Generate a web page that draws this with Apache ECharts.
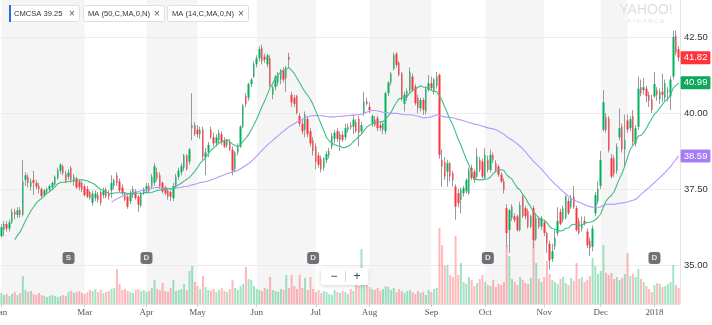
<!DOCTYPE html>
<html><head><meta charset="utf-8">
<script src="https://cdn.jsdelivr.net/npm/echarts@6/dist/echarts.min.js"></script>
<style>html,body{margin:0;padding:0;background:#fff;}#c{width:712px;height:325px;}</style>
</head><body><div id="c"></div>
<script>
// ---------- DATA ----------
const tradingDays = {
  '2017-01': [3,4,5,6,9,10,11,12,13,17,18,19,20,23,24,25,26,27,30,31],
  '2017-02': [1,2,3,6,7,8,9,10,13,14,15,16,17,21,22,23,24,27,28],
  '2017-03': [1,2,3,6,7,8,9,10,13,14,15,16,17,20,21,22,23,24,27,28,29,30,31],
  '2017-04': [3,4,5,6,7,10,11,12,13,17,18,19,20,21,24,25,26,27,28],
  '2017-05': [1,2,3,4,5,8,9,10,11,12,15,16,17,18,19,22,23,24,25,26,30,31],
  '2017-06': [1,2,5,6,7,8,9,12,13,14,15,16,19,20,21,22,23,26,27,28,29,30],
  '2017-07': [3,5,6,7,10,11,12,13,14,17,18,19,20,21,24,25,26,27,28,31],
  '2017-08': [1,2,3,4,7,8,9,10,11,14,15,16,17,18,21,22,23,24,25,28,29,30,31],
  '2017-09': [1,5,6,7,8,11,12,13,14,15,18,19,20,21,22,25,26,27,28,29],
  '2017-10': [2,3,4,5,6,9,10,11,12,13,16,17,18,19,20,23,24,25,26,27,30,31],
  '2017-11': [1,2,3,6,7,8,9,10,13,14,15,16,17,20,21,22,24,27,28,29,30],
  '2017-12': [1,4,5,6,7,8,11,12,13,14,15,18,19,20,21,22,26,27,28,29],
  '2018-01': [2,3,4,5,8,9,10,11,12,16]
};
const VIEW_FIRST_DATE = '2017-01-13';

const openP = [
34.7,34.9,35.05,35.2,35.45,35.35,35.6,35.75,
35.95,36.15,36.35,36.2,36.4,36.75,36.65,36.8,36.65,37.8,
37.9,37.58,37.8,37.7,37.6,37.5,37.3,37.42,37.48,37.55,
37.65,37.85,38.1,38.25,38.0,37.9,38.2,37.75,37.85,37.75,
37.7,37.58,37.5,37.4,37.05,37.2,37.3,37.4,37.3,37.48,
37.38,37.45,37.6,37.95,37.75,37.55,37.35,37.25,37.1,37.3,
37.4,37.25,36.95,37.35,37.45,37.6,37.58,37.7,38.05,37.95,
37.7,37.55,37.45,37.4,37.2,37.6,37.9,38.05,38.2,38.6,
38.4,39.5,39.6,39.45,39.3,39.45,38.55,38.7,39.45,39.2,
39.0,39.1,39.3,39.1,38.95,39.05,38.8,38.15,38.7,38.9,
39.55,40.55,40.5,40.95,41.2,41.6,41.8,42.15,41.85,41.6,
41.8,40.6,40.85,41.0,41.1,41.4,41.15,41.85,40.6,40.5,
40.55,39.9,39.65,39.45,39.8,39.4,39.1,38.9,38.6,38.5,
38.2,38.45,38.6,38.9,39.15,39.4,39.1,39.28,39.2,39.45,
39.6,39.55,39.7,39.8,39.4,40.0,40.38,40.2,39.66,39.78,
39.83,39.6,39.45,39.4,40.65,41.0,41.45,41.95,41.65,41.3,
40.3,40.5,40.72,41.2,40.87,40.5,40.16,40.43,40.05,40.76,
40.98,40.7,40.9,41.25,38.46,38.4,38.07,38.35,38.02,37.58,
37.36,37.14,37.36,37.42,37.36,38.2,38.07,37.91,38.46,38.4,
37.86,38.46,38.13,38.62,38.35,38.24,37.97,37.75,36.87,36.15,
36.55,36.6,36.6,36.15,37.25,36.87,36.76,36.26,36.87,35.85,
36.54,36.26,36.4,36.05,35.7,35.2,35.6,36.05,36.75,36.5,
36.55,37.1,36.9,37.25,36.87,36.45,36.2,36.45,36.1,35.8,
35.6,36.7,37.1,37.6,39.45,39.86,39.82,38.51,38.5,38.1,
39.2,39.55,38.8,39.75,39.5,39.9,39.0,39.55,40.85,40.75,
40.8,40.6,40.45,40.55,40.75,40.45,40.7,40.5,40.7,40.55,
41.2,42.55,42.1
];
const highP = [
35.0,35.15,35.3,35.5,35.55,35.7,35.85,36.0,
36.35,36.45,36.45,36.5,36.85,36.85,36.9,36.9,38.45,38.05,
38.0,37.85,38.1,37.8,37.7,37.55,37.5,37.55,37.65,37.75,
37.95,38.2,38.35,38.3,38.1,38.15,38.25,38.0,37.9,37.8,
37.75,37.65,37.6,37.45,37.45,37.45,37.4,37.45,37.55,37.55,
37.45,37.95,37.85,38.05,37.85,37.65,37.4,37.3,37.45,37.6,
37.5,37.3,37.4,37.55,37.7,37.7,38.0,38.35,38.2,38.05,
37.75,37.6,37.5,37.45,37.7,38.0,38.2,38.35,38.65,38.65,
38.85,40.65,39.7,39.6,39.55,39.55,38.85,39.05,39.55,39.35,
39.3,39.45,39.4,39.2,39.15,39.15,38.9,38.75,39.0,39.6,
40.3,40.65,41.0,41.15,41.7,41.9,42.2,42.25,41.95,41.95,
41.9,40.9,41.25,41.35,41.45,41.5,41.55,41.98,40.7,40.6,
40.6,40.0,39.8,40.05,39.9,39.5,39.2,39.0,38.7,38.6,
38.55,38.75,38.85,39.35,39.45,39.5,39.4,39.4,39.65,39.65,
39.7,39.95,39.8,39.9,39.7,40.7,40.5,40.35,39.95,39.9,
39.9,39.7,39.7,40.7,41.05,41.35,41.99,42.0,41.7,41.35,
40.7,40.8,41.5,41.3,40.95,40.6,40.5,40.5,40.87,41.25,
41.2,41.15,41.35,41.3,38.8,38.55,38.46,38.4,38.1,37.65,
37.5,37.55,37.6,37.85,38.2,38.3,38.15,38.84,38.55,38.5,
38.84,38.6,38.8,38.7,38.45,38.3,38.05,37.85,37.0,36.85,
37.0,36.7,36.65,37.08,37.3,36.95,36.85,36.65,36.95,36.7,
36.6,36.6,36.45,36.1,35.8,35.7,36.15,36.9,36.85,36.95,
37.3,37.2,37.3,37.6,36.95,36.55,36.6,36.6,36.2,35.9,
36.3,37.4,37.75,38.75,40.75,40.0,39.9,38.65,38.6,39.0,
40.15,39.65,39.95,39.95,39.9,40.1,39.6,41.2,41.1,41.15,
40.9,40.7,40.6,41.35,40.85,40.8,41.3,41.1,40.85,41.2,
42.7,42.72,42.2
];
const lowP = [
34.55,34.8,34.95,35.1,35.2,35.25,35.5,35.65,
35.9,35.95,36.1,36.1,36.35,36.5,36.55,36.55,36.6,37.6,
37.55,37.45,37.3,37.5,37.35,37.2,37.25,37.35,37.4,37.5,
37.6,37.8,38.0,37.95,37.7,37.8,37.7,37.6,37.5,37.45,
37.4,37.25,37.2,37.15,36.95,37.1,37.05,36.95,37.2,37.2,
37.15,37.2,37.5,37.6,37.4,37.3,37.1,36.85,37.0,37.2,
37.15,36.75,36.9,37.3,37.35,37.35,37.5,37.6,37.75,37.5,
37.35,37.3,37.15,37.1,37.1,37.5,37.8,37.95,38.1,38.1,
38.3,39.1,39.25,39.2,39.15,38.45,37.95,38.55,39.15,38.9,
38.9,39.0,38.95,38.85,38.85,38.75,37.95,38.05,38.6,38.85,
39.5,40.2,40.4,40.85,41.15,41.5,41.7,41.6,41.65,41.5,
40.85,40.45,40.75,40.9,40.95,41.0,40.7,41.5,40.2,40.2,
39.95,39.55,39.3,39.2,39.2,38.9,38.6,38.15,38.2,38.05,
38.1,38.35,38.5,38.8,39.0,39.05,38.75,39.05,39.1,39.35,
39.45,39.3,39.35,38.9,39.3,39.9,40.25,40.0,39.55,39.55,
39.4,39.4,39.3,39.3,40.55,40.9,41.4,41.5,41.2,40.4,
40.05,40.4,40.65,40.7,40.25,39.99,40.05,39.94,39.95,40.7,
40.75,40.6,40.8,38.5,37.58,37.8,37.58,37.75,37.58,36.49,
36.9,36.7,37.25,37.35,37.3,37.8,37.7,37.85,38.05,37.85,
37.8,38.05,38.05,38.35,38.05,37.9,37.7,37.35,35.6,35.4,
36.45,36.4,36.1,36.1,36.55,36.5,36.2,36.2,35.55,35.8,
36.2,36.15,35.95,35.4,34.85,35.1,35.5,35.95,36.3,36.4,
36.5,36.65,36.85,36.85,36.1,36.0,36.1,36.3,35.55,35.3,
35.45,36.6,37.0,37.5,39.4,39.35,38.7,37.85,37.9,38.0,
39.1,38.7,38.25,39.35,39.4,38.95,38.9,39.45,40.55,40.6,
40.35,40.2,40.0,40.5,40.4,40.3,40.35,40.4,40.4,40.1,
41.1,41.9,41.7
];
const closeP = [
34.85,35.05,35.2,35.4,35.35,35.6,35.75,35.9,
36.25,36.35,36.2,36.4,36.75,36.65,36.8,36.65,37.75,37.95,
37.7,37.75,37.7,37.58,37.5,37.27,37.45,37.5,37.6,37.7,
37.9,38.12,38.3,38.02,37.75,38.05,37.8,37.9,37.55,37.55,
37.48,37.3,37.25,37.2,37.35,37.35,37.15,37.05,37.45,37.25,
37.25,37.7,37.8,37.7,37.45,37.35,37.15,36.92,37.35,37.5,
37.2,36.98,37.35,37.5,37.6,37.42,37.9,38.25,37.85,37.58,
37.42,37.35,37.25,37.25,37.6,37.9,38.1,38.25,38.6,38.15,
38.8,39.6,39.3,39.3,39.45,38.55,38.7,38.95,39.2,39.0,
39.2,39.35,39.05,38.9,39.1,38.8,38.1,38.7,38.9,39.55,
40.25,40.3,40.95,41.1,41.6,41.8,42.1,41.7,41.75,41.9,
40.9,40.85,41.2,41.3,41.4,41.1,41.5,41.75,40.35,40.3,
40.0,39.65,39.4,39.95,39.3,39.0,38.75,38.4,38.3,38.15,
38.5,38.65,38.75,39.25,39.35,39.15,39.3,39.12,39.5,39.55,
39.52,39.78,39.4,39.35,39.6,40.38,40.3,40.1,39.9,39.6,
39.5,39.5,39.66,40.65,41.0,41.3,41.9,41.58,41.25,40.5,
40.6,40.72,41.36,40.76,40.32,40.16,40.43,40.1,40.8,40.98,
40.82,41.1,41.2,38.62,38.24,37.91,38.35,37.91,37.8,36.92,
37.03,37.47,37.53,37.8,38.13,37.86,37.8,38.57,38.13,37.91,
38.62,38.13,38.62,38.46,38.13,37.97,37.75,37.47,36.05,36.8,
36.92,36.48,36.15,36.97,36.6,36.6,36.26,36.6,35.82,36.55,
36.26,36.54,36.05,35.7,35.15,35.45,35.9,36.45,36.35,36.85,
37.25,36.7,37.2,36.9,36.15,36.05,36.35,36.35,35.65,35.55,
36.2,37.3,37.5,38.45,40.35,39.44,38.78,37.91,38.0,38.9,
39.5,38.8,39.1,39.45,39.8,39.05,39.5,40.8,40.65,40.85,
40.55,40.4,40.1,40.95,40.6,40.7,40.6,40.98,40.75,41.1,
42.5,41.98,41.82
];
// volume, millions of shares
const volume = [
20,18,17,16,15,17,16,18,
11,9,10,8,10,12,9,11,28,
14,12,13,10,9,11,9,
8,7,8,9,8,7,8,9,8,
12,13,11,12,13,11,10,12,14,
13,15,12,14,11,12,13,15,16,
35,
20,14,15,13,12,11,14,15,13,14,12,13,16,
24,
15,14,21,13,12,16,24,13,14,15,20,14,33,
38,
22,18,15,28,17,14,13,15,12,14,16,13,12,15,
24,
16,14,18,20,37,25,24,18,15,14,13,16,15,
27,
14,13,12,15,14,29,16,29,18,15,29,16,26,
14,27,15,12,14,11,13,12,10,9,14,12,11,13,12,10,15,13,20,18,
55,
20,19,17,15,14,16,13,15,18,17,14,16,12,15,13,11,13,14,12,10,13,11,12,9,14,12,15,16,
76,59,38,39,29,27,68,29,41,
22,20,27,24,18,21,25,29,22,19,18,24,17,20,19,22,
59,48,
25,22,19,27,24,21,20,26,
64,41,
25,22,27,
43,
30,24,22,20,25,27,21,19,26,23,
41,
25,27,22,24,28,
46,38,30,33,59,
31,29,31,25,27,24,26,30,
51,
28,30,27,35,25,22,18,15,12,19,21,20,17,18,20,22,
39,19,16
];
const tickDates  = ['2017-01-13','2017-03-01','2017-04-03','2017-05-01','2017-06-01','2017-07-03','2017-08-01','2017-09-01','2017-10-02','2017-11-01','2017-12-01','2018-01-02'];
const tickLabels = ['Jan','Mar','Apr','May','Jun','Jul','Aug','Sep','Oct','Nov','Dec','2018'];
const eventDates  = ['2017-02-21','2017-04-03','2017-06-30','2017-10-03','2018-01-02'];
const eventLabels = ['S','D','D','D','D'];
const TICKER = 'CMCSA';
const HEADER_PRICE = 39.25;
const MA_SLOW = 50, MA_FAST = 14;

// ---------- BUILD ----------
const dates = [];
for (const m in tradingDays) for (const d of tradingDays[m]) dates.push(m + '-' + String(d).padStart(2, '0'));
const lens = [dates.length, openP.length, highP.length, lowP.length, closeP.length, volume.length];
if (lens.some(l => l !== lens[0])) throw new Error('length mismatch ' + lens.join(','));

function movingAvg(n) {
  return closeP.map((c, i) => {
    if (i < n - 1) return null;
    let s = 0; for (let k = i - n + 1; k <= i; k++) s += closeP[k];
    return s / n;
  });
}
const START = dates.indexOf(VIEW_FIRST_DATE);
const idx = []; for (let i = START; i < dates.length; i++) idx.push(i);
const viewDates = idx.map(i => dates[i]);
const UP = '#00b15d', DOWN = '#ff333a', WICK = '#9a9a9a';
const VOL_UP = 'rgba(0,177,93,0.36)', VOL_DOWN = 'rgba(255,51,58,0.34)';
const PURPLE = '#b996fa', PURPLE_LBL = '#a57cf6', MAGREEN = '#3cbf86', MAGREEN_LBL = '#0fa85c';
const wick = idx.map(i => [openP[i], closeP[i], lowP[i], highP[i]]);
const body = idx.map(i => [openP[i], closeP[i], Math.min(openP[i], closeP[i]), Math.max(openP[i], closeP[i])]);
const vol = idx.map(i => ({ value: volume[i], itemStyle: { color: closeP[i] >= openP[i] ? VOL_UP : VOL_DOWN } }));
const maS = movingAvg(MA_SLOW), maF = movingAvg(MA_FAST);
const maSV = idx.map(i => maS[i]), maFV = idx.map(i => maF[i]);
const closeV = idx.map(i => closeP[i]);
const bands = [];
for (let k = 0; k + 1 < tickDates.length; k += 2) bands.push([{ xAxis: tickDates[k] }, { xAxis: tickDates[k + 1] }]);
const showTick = (index, value) => tickDates.indexOf(value) >= 0;
const EVENT_ROW = 46;
const VOL_AXIS_MAX = 304;

function endLbl(bg) {
  return { show: true, formatter: p => Number(Array.isArray(p.value) ? p.value[1] : p.value).toFixed(2),
    color: '#fff', backgroundColor: bg, padding: [2, 3, 1, 3], fontFamily: 'Liberation Sans', fontSize: 9.5,
    distance: 2, borderRadius: 1 };
}
const FONT = '"Liberation Sans", Arial, sans-serif';
function chip(x, w, text, blue) {
  const els = [
    { type: 'rect', z: 100, shape: { x: x + 0.5, y: 5.5, width: w, height: 16, r: 2 }, style: { fill: '#fff', stroke: '#dedede', lineWidth: 1 } },
    { type: 'text', z: 101, style: { x: x + 5, y: 13.8, text: text, font: '7.6px ' + FONT, fill: '#333', verticalAlign: 'middle', align: 'left' } },
    { type: 'text', z: 101, style: { x: x + w - 7, y: 13.8, text: '\u00d7', font: '10px ' + FONT, fill: '#555', verticalAlign: 'middle', align: 'center' } }
  ];
  if (blue) els.push({ type: 'rect', z: 102, shape: { x: x, y: 5, width: 2, height: 17 }, style: { fill: '#1d6fe0' } });
  return els;
}
const graphics = [].concat(
  chip(9, 70, TICKER + ' ' + HEADER_PRICE.toFixed(2), true),
  chip(83, 81, 'MA (' + MA_SLOW + ',C,MA,0,N)', false),
  chip(167, 81, 'MA (' + MA_FAST + ',C,MA,0,N)', false),
  [
    { type: 'text', z: 100, style: { x: 646, y: 10.5, text: 'YAHOO!', font: '14px ' + FONT, fill: '#dedede', align: 'center', verticalAlign: 'middle' } },
    { type: 'text', z: 100, style: { x: 646, y: 21.5, text: 'F I N A N C E', font: '6px ' + FONT, fill: '#e0e0e0', align: 'center', verticalAlign: 'middle' } },
    { type: 'rect', z: 100, shape: { x: 321, y: 268, width: 47, height: 17, r: 2 }, style: { fill: '#fff', shadowBlur: 4, shadowColor: 'rgba(0,0,0,0.18)', shadowOffsetY: 1 } },
    { type: 'line', z: 101, shape: { x1: 345.5, y1: 271, x2: 345.5, y2: 282 }, style: { stroke: '#d8d8d8', lineWidth: 1 } },
    { type: 'text', z: 101, style: { x: 334, y: 276.5, text: '\u2212', font: '12px ' + FONT, fill: '#444', align: 'center', verticalAlign: 'middle' } },
    { type: 'text', z: 101, style: { x: 357, y: 276.5, text: '+', font: '12px ' + FONT, fill: '#444', align: 'center', verticalAlign: 'middle' } }
  ]
);

const chart = echarts.init(document.getElementById('c'), null, { renderer: 'canvas', width: 712, height: 325 });
chart.setOption({
  animation: false,
  backgroundColor: '#fff',
  grid: [
    { left: 0, right: 32, top: 0, height: 304, outerBoundsMode: 'none', containLabel: false },
    { left: 0, right: 32, top: -39, height: 380, outerBoundsMode: 'none', containLabel: false }
  ],
  xAxis: [
    { type: 'category', gridIndex: 0, data: viewDates, boundaryGap: true, z: 2,
      axisLine: { show: true, lineStyle: { color: '#e2e2e2' } },
      axisTick: { show: true, interval: showTick, alignWithLabel: true, length: 3, lineStyle: { color: '#cfcfcf' } },
      axisLabel: { interval: showTick, formatter: v => tickLabels[tickDates.indexOf(v)], fontFamily: '"Liberation Serif", "DejaVu Serif", serif', fontSize: 9, color: '#555', margin: 4 },
      splitLine: { show: false } },
    { type: 'category', gridIndex: 1, data: viewDates, boundaryGap: true, show: false }
  ],
  yAxis: [
    { type: 'value', gridIndex: 0, min: 0, max: VOL_AXIS_MAX, position: 'right', z: 2,
      axisLine: { show: true, lineStyle: { color: '#e2e2e2' } }, axisTick: { show: false }, axisLabel: { show: false }, splitLine: { show: false } },
    { type: 'value', gridIndex: 1, min: 32.5, max: 45, interval: 2.5, position: 'right', z: 2,
      axisLine: { show: false }, axisTick: { show: false },
      axisLabel: { formatter: v => v.toFixed(2), fontFamily: FONT, fontSize: 9.5, color: '#333', margin: 4 },
      splitLine: { show: true, lineStyle: { color: '#ececec', width: 1 } } }
  ],
  series: [
    { name: 'Volume', type: 'bar', xAxisIndex: 0, yAxisIndex: 0, data: vol, barWidth: 2, z: 3, silent: true,
      markArea: { silent: true, z: 1, itemStyle: { color: '#f5f5f5' }, data: bands } },
    { name: 'wick', type: 'candlestick', xAxisIndex: 1, yAxisIndex: 1, data: wick, barWidth: 1, z: 4, silent: true,
      itemStyle: { color: WICK, color0: WICK, borderColor: WICK, borderColor0: WICK, borderWidth: 1 } },
    { name: TICKER, type: 'candlestick', xAxisIndex: 1, yAxisIndex: 1, data: body, barWidth: 2, z: 5, silent: true,
      itemStyle: { color: UP, color0: DOWN, borderColor: UP, borderColor0: DOWN, borderWidth: 0 } },
    { name: 'MA' + MA_SLOW, type: 'line', xAxisIndex: 1, yAxisIndex: 1, data: maSV, z: 6, symbol: 'none', silent: true,
      lineStyle: { color: PURPLE, width: 1.1 }, endLabel: endLbl(PURPLE_LBL) },
    { name: 'MA' + MA_FAST, type: 'line', xAxisIndex: 1, yAxisIndex: 1, data: maFV, z: 6, symbol: 'none', silent: true,
      lineStyle: { color: MAGREEN, width: 1.1 }, endLabel: endLbl(MAGREEN_LBL) },
    { name: 'last', type: 'line', xAxisIndex: 1, yAxisIndex: 1, data: closeV, z: 7, symbol: 'none', silent: true,
      lineStyle: { opacity: 0 }, endLabel: endLbl('#ff333a') },
    { name: 'events', type: 'scatter', xAxisIndex: 0, yAxisIndex: 0, z: 8, silent: true,
      data: eventDates.map(d => [d, EVENT_ROW]), symbol: 'roundRect', symbolSize: [12, 12],
      itemStyle: { color: '#4b5056' },
      label: { show: true, position: 'inside', formatter: p => eventLabels[p.dataIndex], color: '#fff', fontSize: 8, fontWeight: 'bold', fontFamily: FONT } }
  ],
  graphic: graphics
});
</script>
</body></html>
